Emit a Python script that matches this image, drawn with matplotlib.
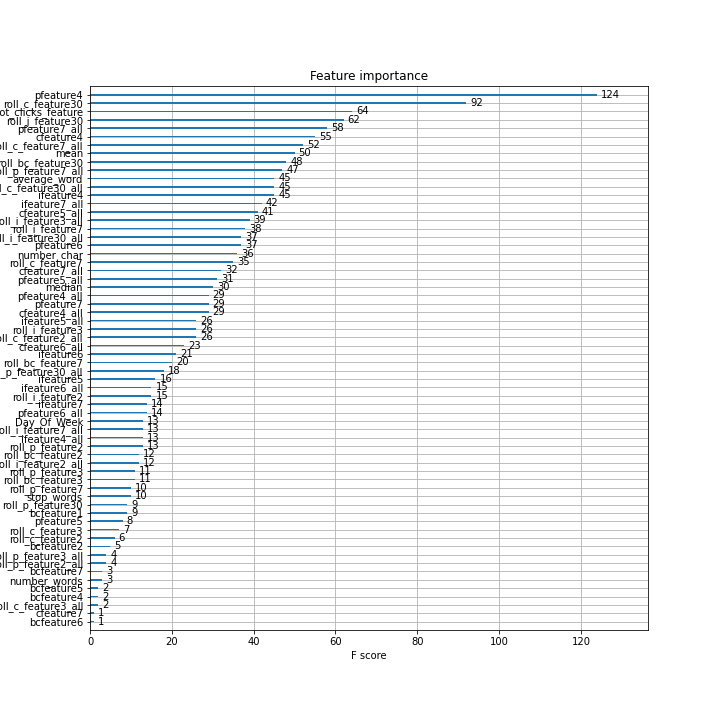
import matplotlib
matplotlib.use("Agg")
import matplotlib.pyplot as plt

features = [
    "pfeature4", "roll_c_feature30", "hot_clicks_feature", "roll_j_feature30",
    "pfeature7_all", "cfeature4", "roll_c_feature7_all", "mean",
    "roll_bc_feature30", "roll_p_feature7_all", "average_word", "roll_c_feature30_all",
    "ifeature4", "ifeature7_all", "cfeature5_all", "roll_i_feature3_all",
    "roll_i_feature7", "roll_i_feature30_all", "pfeature6", "number_char",
    "roll_c_feature7", "cfeature7_all", "pfeature5_all", "median",
    "pfeature4_all", "pfeature7", "cfeature4_all", "ifeature5_all",
    "roll_i_feature3", "roll_c_feature2_all", "cfeature6_all", "ifeature6",
    "roll_bc_feature7", "roll_p_feature30_all", "ifeature5", "ifeature6_all",
    "roll_i_feature2", "ifeature7", "pfeature6_all", "Day_Of_Week",
    "roll_i_feature7_all", "ifeature4_all", "roll_p_feature2", "roll_bc_feature2",
    "roll_i_feature2_all", "roll_p_feature3", "roll_bc_feature3", "roll_p_feature7",
    "stop_words", "roll_p_feature30", "bcfeature1", "pfeature5",
    "roll_c_feature3", "roll_c_feature2", "bcfeature2", "roll_p_feature3_all",
    "roll_p_feature2_all", "bcfeature7", "number_words", "bcfeature5",
    "bcfeature4", "roll_c_feature3_all", "cfeature7", "bcfeature6",
]
scores = [
    124, 92, 64, 62, 58, 55, 52, 50, 48, 47, 45, 45, 45, 42, 41, 39,
    38, 37, 37, 36, 35, 32, 31, 30, 29, 29, 29, 26, 26, 26, 23, 21,
    20, 18, 16, 15, 15, 14, 14, 13, 13, 13, 13, 12, 12, 11, 11, 10,
    10, 9, 9, 8, 7, 6, 5, 4, 4, 3, 3, 2, 2, 2, 1, 1,
]

# plot in ascending order (bottom to top)
labels = features[::-1]
values = scores[::-1]
ylocs = list(range(len(values)))

fig = plt.figure(figsize=(10, 10), dpi=72)
ax = fig.add_axes([0.125, 0.125, 0.775, 0.755])
ax.barh(ylocs, values, align="center", height=0.2, color="#1f77b4")
for x, y in zip(values, ylocs):
    ax.text(x + 1, y, x, va="center", fontsize=10)
ax.set_yticks(ylocs)
ax.set_yticklabels(labels)
ax.set_xlim(0, max(values) * 1.1)
ax.set_ylim(-1, len(values))
ax.set_title("Feature importance")
ax.set_xlabel("F score")
ax.set_ylabel("Features")
ax.grid(True, color="#b0b0b0", linewidth=0.8)
ax.set_axisbelow(True)
fig.savefig("out.png", dpi=72)
